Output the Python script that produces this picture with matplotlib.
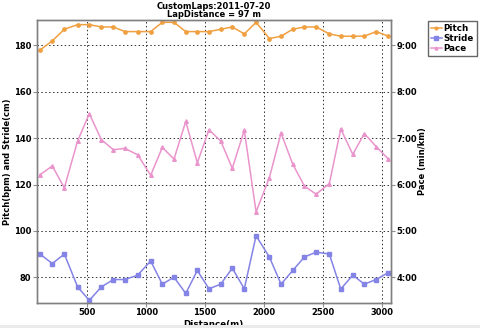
import numpy as np
import matplotlib.pyplot as plt
from matplotlib.ticker import FuncFormatter
from matplotlib.patches import Rectangle

# distance of each lap point (m)
distance = [98, 203, 305, 418, 517, 619, 721, 820, 928, 1038,
            1137, 1236, 1336, 1434, 1533, 1633, 1731, 1833, 1933, 2046,
            2145, 2244, 2343, 2442, 2555, 2652, 2754, 2852, 2952, 3056]
pitch = [178, 182, 187, 189, 189, 188, 188, 186, 186, 186,
         190, 190, 186, 186, 186, 187, 188, 185, 190, 183,
         184, 187, 188, 188, 185, 184, 184, 184, 186, 184]
stride = [90.0, 85.9, 90.0, 75.8, 70.0, 75.8, 79.0, 79.0, 80.9, 87.0,
          77.0, 80.0, 73.0, 82.9, 75.0, 77.0, 83.9, 75.0, 97.9, 88.7,
          77.0, 82.9, 88.7, 90.8, 90.0, 74.9, 80.9, 77.0, 79.0, 82.0]
# pace in minutes per km
pace = [6.21, 6.40, 5.93, 6.94, 7.53, 6.97, 6.75, 6.78, 6.64, 6.20,
        6.80, 6.55, 7.36, 6.47, 7.18, 6.94, 6.35, 7.17, 5.41, 6.15,
        7.11, 6.44, 5.97, 5.79, 6.02, 7.20, 6.65, 7.10, 6.82, 6.55]

c_pitch = '#f0a040'
c_stride = '#8484e6'
c_pace = '#ea94cc'

plt.rcParams['font.family'] = 'DejaVu Sans'
plt.rcParams['font.weight'] = 'bold'
plt.rcParams['axes.labelweight'] = 'bold'
plt.rcParams['axes.titleweight'] = 'bold'
fs = 6.0

fig = plt.figure(figsize=(4.8, 3.28), dpi=100)
fig.patch.set_facecolor('white')
fig.patches.append(Rectangle((0, 0), 1, 3 / 328, transform=fig.transFigure,
                             facecolor='#ebebeb', edgecolor='none', zorder=0))

ax = fig.add_axes([37 / 480, 1 - 302.7 / 328, (390.7 - 37) / 480, (302.7 - 20) / 328])
ax2 = ax.twinx()

l1, = ax.plot(distance, pitch, color=c_pitch, lw=1.1, marker='o', ms=2.4, label='Pitch')
l2, = ax.plot(distance, stride, color=c_stride, lw=1.1, marker='s', ms=3.0, label='Stride')
l3, = ax2.plot(distance, pace, color=c_pace, lw=1.1, marker='^', ms=2.6, label='Pace')

ax.set_xlim(73, 3076)
ax.set_ylim(69, 191)
ax2.set_ylim(3.45, 9.55)

ax.set_xticks([500, 1000, 1500, 2000, 2500, 3000])
ax.set_yticks([80, 100, 120, 140, 160, 180])
ax2.set_yticks([4, 5, 6, 7, 8, 9])
ax2.yaxis.set_major_formatter(FuncFormatter(lambda v, p: '%d:00' % v))

ax.grid(True, color='#303030', linestyle=(0, (1.5, 2.5)), linewidth=0.7)
for a in (ax, ax2):
    a.tick_params(labelsize=fs, length=3, width=0.8, color='#909090', pad=1)
    for s in a.spines.values():
        s.set_color('#808080')
        s.set_linewidth(1.0)

ax.set_xlabel('Distance(m)', fontsize=fs + 0.3)
ax.xaxis.set_label_coords((213 - 37) / 353.7, -(320.5 - 302.7) / 282.7)
ax.set_ylabel('Pitch(bpm) and Stride(cm)', fontsize=fs)
ax.yaxis.set_label_coords((12 - 37) / 353.7, 0.5)
ax2.set_ylabel('Pace (min/km)', fontsize=fs)
ax2.yaxis.set_label_coords((418 - 37) / 353.7, 0.5)
ax.set_title('CustomLaps:2011-07-20\nLapDistance = 97 m', fontsize=fs, pad=2, linespacing=0.95)

fig.legend(handles=[l1, l2, l3], loc='upper left', bbox_to_anchor=(428 / 480, 1 - 21 / 328),
           fontsize=fs + 0.3, frameon=True, fancybox=False, edgecolor='#404040',
           handlelength=1.3, handletextpad=0.2, borderpad=0.3, labelspacing=0.15,
           borderaxespad=0, markerscale=0.8)

fig.savefig('out.png', dpi=100)
